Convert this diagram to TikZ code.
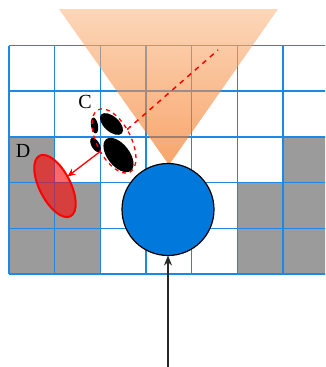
\documentclass[tikz,border=0pt]{standalone}
\usepackage{fontspec}
\setmainfont{Liberation Serif}
\usetikzlibrary{shapes.geometric,arrows.meta}
\definecolor{gridblue}{RGB}{30,136,229}
\definecolor{cellgray}{RGB}{155,155,155}
\definecolor{robotblue}{RGB}{0,120,220}
\definecolor{conetop}{RGB}{250,187,137}
\definecolor{conebot}{RGB}{243,105,10}
\definecolor{arrowgray}{RGB}{40,40,40}
\tikzset{
  gridline/.style={draw=gridblue, line width=1.5pt},
  graycell/.style={fill=cellgray},
  robot/.style={circle, fill=robotblue, draw=black, line width=1.2pt, minimum size=92pt, inner sep=0pt, outer sep=0pt},
  blob/.style={ellipse, fill=black, inner sep=0pt, outer sep=0pt},
  groupC/.style={ellipse, draw=red, dash pattern=on 4pt off 4pt, line width=1.3pt, minimum width=70pt, minimum height=34pt, inner sep=0pt, outer sep=0pt, rotate=-63},
  personD/.style={ellipse, draw=red, line width=2pt, fill=red, fill opacity=0.6, minimum width=68pt, minimum height=31pt, inner sep=0pt, outer sep=0pt, rotate=-63},
  redarrow/.style={draw=red, line width=1.3pt, -{Stealth[length=8pt,width=7pt]}},
  reddash/.style={draw=red, line width=1.5pt, dash pattern=on 5pt off 5pt},
  uparrow/.style={draw=arrowgray, line width=1.3pt, -{Stealth[length=10pt,width=8pt]}},
  lbl/.style={font=\fontsize{20}{20}\selectfont, inner sep=0pt}
}
\begin{document}
\begin{tikzpicture}[x=1pt,y=-1pt]
\useasboundingbox (0,0) rectangle (325,367);
\begin{scope}
\clip (0,0) rectangle (325,367);
% gray cells
\foreach \c/\r in {0/2,6/2,0/3,1/3,5/3,6/3,0/4,1/4,5/4,6/4}
  \fill[graycell] (9+\c*45.65, 45.5+\r*45.7) rectangle ++(45.65,45.7);
% grid
\foreach \i in {0,...,7}
  \draw[gridline] (9+\i*45.65,45.5) -- (9+\i*45.65,274);
\foreach \j in {0,...,5}
  \draw[gridline] (9,45.5+\j*45.7) -- (335,45.5+\j*45.7);
% cone
\shade[top color=conetop, bottom color=conebot, fill opacity=0.6] (59,9) -- (278,9) -- (169,165) -- cycle;
\end{scope}
% robot
\node[robot] (R) at (168,209.5) {};
\coordinate (S) at (168,367);
\draw[uparrow] (S) -- (R);
% person C blobs
\node[blob, minimum width=28pt, minimum height=15pt, rotate=-42] (b1) at (111.5,124) {};
\node[blob, minimum width=40pt, minimum height=22pt, rotate=-52] (b2) at (118.5,155) {};
\node[blob, minimum width=16pt, minimum height=7pt, rotate=-80] (s1) at (94.5,125.5) {};
\node[blob, minimum width=16pt, minimum height=8pt, rotate=-60] (s2) at (95.5,145) {};
\node[groupC] (G) at (114,141) {};
\coordinate (T) at (218,50);
\draw[reddash] (G) -- (T);
% person D
\node[personD] (D) at (55,186) {};
\draw[redarrow] (G) -- (D);
% labels
\node[lbl] (lc) at (85,102) {C};
\node[lbl] (ld) at (23,151) {D};
\end{tikzpicture}
\end{document}
